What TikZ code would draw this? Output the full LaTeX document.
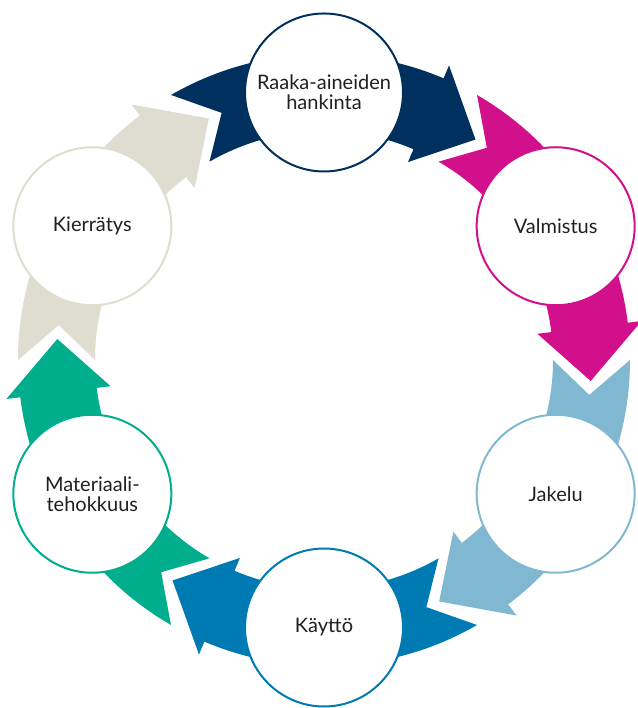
\documentclass[tikz,border=0pt]{standalone}
\usepackage{fontspec}
\setmainfont{Lato}
\definecolor{navy}{RGB}{0,48,94}
\definecolor{magenta}{RGB}{210,16,140}
\definecolor{lightblue}{RGB}{127,184,208}
\definecolor{midblue}{RGB}{0,122,178}
\definecolor{teal}{RGB}{0,174,142}
\definecolor{cream}{RGB}{222,221,207}
\definecolor{txt}{RGB}{35,31,32}
\newcommand{\cyclearrow}[2]{%
  \pgfmathsetmacro{\ta}{#1+30}%
  \pgfmathsetmacro{\na}{#1+22.5}%
  \pgfmathsetmacro{\ba}{#1-23}%
  \pgfmathsetmacro{\pa}{#1-34.5}%
  \fill[#2] (\ta:306pt) arc[start angle=\ta, end angle=\ba, radius=306pt]
    -- (\ba:320pt) -- (\pa:267.5pt) -- (\ba:215pt) -- (\ba:229pt)
    arc[start angle=\ba, end angle=\ta, radius=229pt]
    -- (\na:267.5pt) -- cycle;}
\begin{document}
\begin{tikzpicture}[
  stage/.style={circle, draw=#1, line width=2pt, fill=white, minimum size=158pt,
    inner sep=0pt, align=center, text=txt, font=\fontsize{20}{20}\selectfont}]
\useasboundingbox (0,0) rectangle (637pt,708pt);
\begin{scope}[shift={(324pt,348pt)}]
  \cyclearrow{90}{navy}
  \cyclearrow{30}{magenta}
  \cyclearrow{-30}{lightblue}
  \cyclearrow{-90}{midblue}
  \cyclearrow{-150}{teal}
  \cyclearrow{150}{cream}
  \node[stage=navy] (raaka) at (90:267.5pt) {Raaka-aineiden\\hankinta};
  \node[stage=magenta] (valm) at (30:267.5pt) {Valmistus};
  \node[stage=lightblue] (jakelu) at (-30:267.5pt) {Jakelu};
  \node[stage=midblue] (kaytto) at (-90:267.5pt) {Käyttö};
  \node[stage=teal] (mat) at (-150:267.5pt) {Materiaali-\\tehokkuus};
  \node[stage=cream] (kierr) at (150:267.5pt) {Kierrätys};
\end{scope}
\end{tikzpicture}
\end{document}
